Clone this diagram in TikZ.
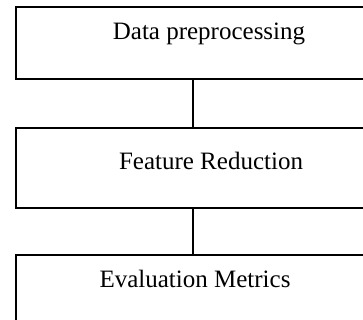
\documentclass[tikz,border=0pt]{standalone}
\usepackage{fontspec}
\setmainfont{Liberation Serif}
\begin{document}
\begin{tikzpicture}[x=1pt,y=-1pt,
  box/.style={draw=black,line width=2pt,rectangle,minimum width=364pt,inner sep=0pt},
  lbl/.style={font=\fontsize{25}{29}\selectfont,inner sep=0pt,anchor=base},
  conn/.style={draw=black,line width=2pt}]
\useasboundingbox (0,0) rectangle (363,320);
\clip (0,0) rectangle (363,320);
\fill[white] (0,0) rectangle (363,320);
\node[box,minimum height=72pt] (b1) at (198,43) {};
\node[box,minimum height=80pt] (b2) at (198,168) {};
\node[box,minimum height=86pt] (b3) at (198,298) {};
\node[lbl] (t1) at (209,40) {Data preprocessing};
\node[lbl] (t2) at (211,169) {Feature Reduction};
\node[lbl] (t3) at (195,287) {Evaluation Metrics};
\coordinate (cx) at (193,0);
\draw[conn] (b1.south -| cx) -- (b2.north -| cx);
\draw[conn] (b2.south -| cx) -- (b3.north -| cx);
\end{tikzpicture}
\end{document}
